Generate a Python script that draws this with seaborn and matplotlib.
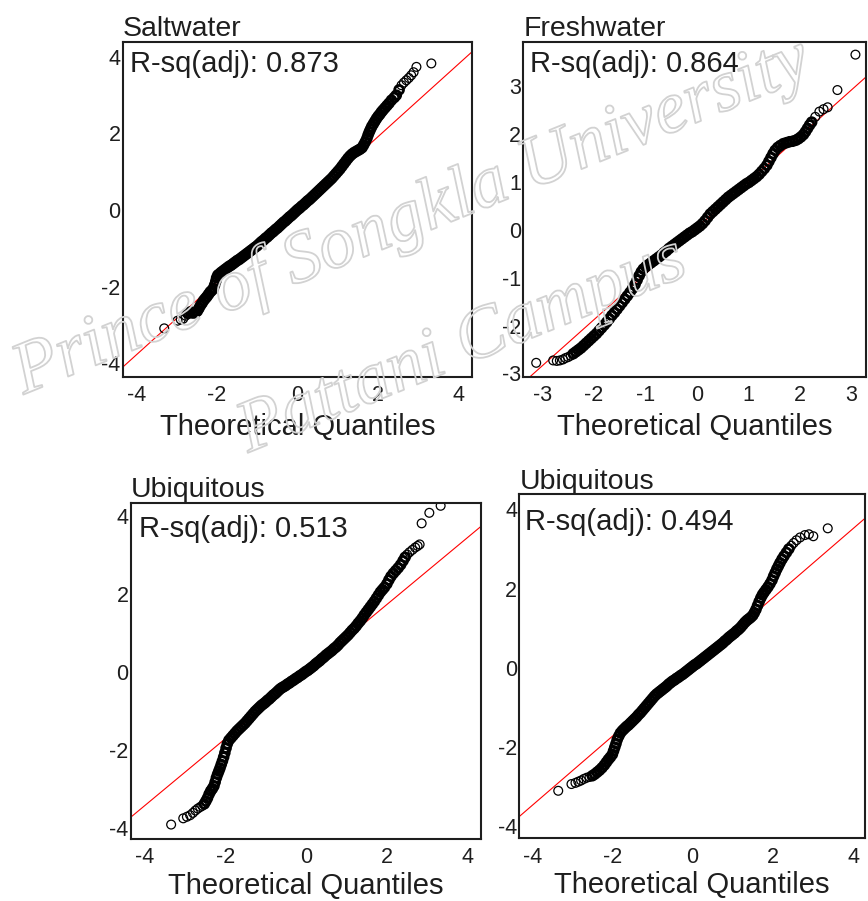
import matplotlib
matplotlib.use("Agg")
import matplotlib.pyplot as plt
import matplotlib.patheffects as pe
import numpy as np
import pandas as pd
import seaborn as sns

# QQ points (theoretical quantile, sample quantile)
salt_x = [-3.31, -2.98, -2.90, -2.84, -2.78, -2.72, -2.66, -2.60, -2.54, -2.49, -2.45, -2.41,
          -2.37, -2.33, -2.29, -2.25, -2.21, -2.17, -2.13, -2.09, -2.06, -2.03, -2.01, -1.98,
          -1.94, -1.90,
          -1.85, -1.80, -1.75, -1.70, -1.65, -1.60, -1.55, -1.50, -1.45, -1.40,
          -1.35, -1.30, -1.25, -1.20, -1.15, -1.10, -1.05, -1.00, -0.95, -0.90,
          -0.85, -0.80, -0.75, -0.70, -0.65, -0.60, -0.55, -0.50, -0.45, -0.40,
          -0.35, -0.30, -0.25, -0.20, -0.15, -0.10, -0.05, 0.00, 0.05, 0.10,
          0.15, 0.20, 0.25, 0.30, 0.35, 0.40, 0.45, 0.50, 0.55, 0.60,
          0.65, 0.70, 0.75, 0.80, 0.85, 0.90, 0.95, 1.00, 1.05, 1.10,
          1.15, 1.20, 1.25, 1.30, 1.35, 1.40, 1.45, 1.50, 1.55, 1.60,
          1.64, 1.68, 1.72, 1.75, 1.78, 1.81, 1.84, 1.88, 1.92, 1.96, 2.00, 2.04, 2.08, 2.12,
          2.17, 2.22, 2.27, 2.33, 2.40, 2.45, 2.52, 2.58, 2.64, 2.70, 2.76, 2.82, 2.88, 2.95,
          3.32]
salt_y = [-3.09, -2.89, -2.86, -2.84, -2.76, -2.70, -2.66, -2.69, -2.68, -2.64, -2.57, -2.49,
          -2.43, -2.36, -2.31, -2.26, -2.20, -2.14, -2.10, -2.05, -1.96, -1.86, -1.77, -1.70,
          -1.67, -1.63,
          -1.59, -1.55, -1.51, -1.47, -1.44, -1.40, -1.36, -1.32, -1.29, -1.25,
          -1.21, -1.17, -1.13, -1.09, -1.05, -1.01, -0.97, -0.93, -0.88, -0.83,
          -0.79, -0.74, -0.70, -0.65, -0.60, -0.56, -0.51, -0.47, -0.42, -0.37,
          -0.32, -0.28, -0.23, -0.18, -0.14, -0.09, -0.04, 0.01, 0.05, 0.10,
          0.14, 0.19, 0.24, 0.28, 0.33, 0.38, 0.43, 0.48, 0.53, 0.58,
          0.63, 0.68, 0.73, 0.78, 0.83, 0.89, 0.95, 1.01, 1.07, 1.14,
          1.21, 1.28, 1.35, 1.41, 1.46, 1.50, 1.53, 1.56, 1.59, 1.63,
          1.70, 1.78, 1.87, 1.96, 2.04, 2.11, 2.18, 2.25, 2.32, 2.39, 2.45, 2.50, 2.56, 2.61,
          2.67, 2.73, 2.79, 2.87, 2.94, 3.00, 3.14, 3.26, 3.33, 3.39, 3.45, 3.52, 3.60, 3.74,
          3.83]

fresh_x = [-3.12, -2.79, -2.72, -2.66, -2.60,
           -2.55, -2.50, -2.45, -2.40, -2.35, -2.30, -2.25, -2.20, -2.15, -2.10,
           -2.05, -2.00, -1.95, -1.90, -1.85, -1.80, -1.75, -1.70, -1.65, -1.60,
           -1.55, -1.50, -1.45, -1.40, -1.35, -1.30, -1.25, -1.20,
           -1.16, -1.12, -1.08, -1.04,
           -0.99, -0.94, -0.89, -0.84, -0.79, -0.74, -0.69, -0.64, -0.59, -0.54,
           -0.49, -0.44, -0.39, -0.34, -0.29, -0.24, -0.19, -0.14, -0.09, -0.04,
           0.01, 0.06, 0.11, 0.16, 0.21, 0.26, 0.31, 0.36, 0.41, 0.46,
           0.51, 0.56, 0.61, 0.66, 0.71, 0.76, 0.81, 0.86, 0.91, 0.96,
           1.01, 1.06, 1.11, 1.16, 1.21, 1.26, 1.31,
           1.36, 1.40, 1.44, 1.48, 1.52, 1.57, 1.62, 1.68, 1.74, 1.80, 1.86, 1.92, 1.97,
           2.02, 2.07, 2.11, 2.15, 2.19, 2.23, 2.30, 2.38, 2.46, 2.54, 2.73, 3.08]
fresh_y = [-2.78, -2.73, -2.74, -2.73, -2.71,
           -2.68, -2.66, -2.63, -2.59, -2.55, -2.51, -2.47, -2.42, -2.37, -2.32,
           -2.27, -2.22, -2.17, -2.11, -2.05, -1.99, -1.93, -1.86, -1.79, -1.73,
           -1.66, -1.59, -1.52, -1.45, -1.38, -1.31, -1.23, -1.14,
           -1.05, -0.96, -0.88, -0.82,
           -0.77, -0.73, -0.69, -0.65, -0.61, -0.57, -0.53, -0.48, -0.44, -0.39,
           -0.35, -0.31, -0.27, -0.23, -0.19, -0.15, -0.11, -0.07, -0.04, 0.00,
           0.04, 0.08, 0.13, 0.19, 0.26, 0.33, 0.38, 0.43, 0.48, 0.53,
           0.58, 0.63, 0.68, 0.72, 0.76, 0.80, 0.84, 0.88, 0.92, 0.96,
           0.99, 1.03, 1.07, 1.11, 1.16, 1.22, 1.28,
           1.35, 1.43, 1.51, 1.59, 1.66, 1.72, 1.76, 1.80, 1.82, 1.84, 1.85, 1.87, 1.90,
           1.94, 1.99, 2.05, 2.12, 2.19, 2.25, 2.36, 2.47, 2.52, 2.56, 2.92, 3.66]

ubq1_x = [-3.34, -3.04, -2.95, -2.87, -2.80, -2.74, -2.68, -2.62, -2.57, -2.52, -2.48, -2.44,
          -2.40, -2.36, -2.32, -2.28, -2.25, -2.22, -2.19, -2.16, -2.13, -2.10, -2.07, -2.04,
          -2.01, -1.98, -1.95, -1.91,
          -1.86, -1.81, -1.76, -1.71, -1.66, -1.61, -1.56, -1.51, -1.46, -1.41,
          -1.36, -1.31, -1.26, -1.21, -1.16, -1.11, -1.06, -1.01, -0.96, -0.91,
          -0.86, -0.81, -0.76, -0.71, -0.66, -0.61, -0.56, -0.51, -0.46, -0.41,
          -0.36, -0.31, -0.26, -0.21, -0.16, -0.11, -0.06, -0.01, 0.04, 0.09,
          0.14, 0.19, 0.24, 0.29, 0.34, 0.39, 0.44, 0.49, 0.54, 0.59,
          0.64, 0.69, 0.74, 0.79, 0.84, 0.89, 0.94, 0.99, 1.04, 1.09,
          1.14, 1.19, 1.24, 1.29, 1.34, 1.39, 1.44, 1.49, 1.54, 1.59,
          1.64, 1.69, 1.74, 1.79, 1.84, 1.89, 1.94,
          2.00, 2.05, 2.10, 2.16, 2.22, 2.28, 2.34, 2.40, 2.45, 2.50, 2.56, 2.63, 2.70, 2.76,
          2.81, 2.86, 3.05, 3.33]
ubq1_y = [-3.91, -3.75, -3.71, -3.67, -3.61, -3.55, -3.50, -3.46, -3.43, -3.38, -3.31, -3.23,
          -3.13, -3.05, -2.99, -2.92, -2.82, -2.71, -2.62, -2.54, -2.46, -2.37, -2.28, -2.18,
          -2.07, -1.95, -1.84, -1.75,
          -1.69, -1.63, -1.57, -1.51, -1.46, -1.41, -1.36, -1.31, -1.25, -1.19,
          -1.13, -1.07, -1.01, -0.96, -0.91, -0.86, -0.82, -0.78, -0.73, -0.69,
          -0.64, -0.59, -0.55, -0.50, -0.45, -0.41, -0.38, -0.35, -0.31, -0.28,
          -0.24, -0.21, -0.17, -0.14, -0.10, -0.07, -0.03, 0.01, 0.04, 0.08,
          0.12, 0.16, 0.21, 0.25, 0.29, 0.34, 0.38, 0.43, 0.47, 0.51,
          0.55, 0.60, 0.64, 0.69, 0.75, 0.80, 0.85, 0.90, 0.95, 1.01,
          1.07, 1.12, 1.18, 1.25, 1.31, 1.38, 1.46, 1.53, 1.60, 1.67,
          1.74, 1.81, 1.89, 1.97, 2.05, 2.11, 2.17,
          2.26, 2.36, 2.45, 2.53, 2.60, 2.67, 2.75, 2.85, 2.94, 3.01, 3.07, 3.13, 3.19, 3.23,
          3.27, 3.81, 4.08, 4.26]

ubq2_x = [-3.35, -3.02, -2.92, -2.85, -2.78, -2.71, -2.64, -2.57, -2.50, -2.44, -2.38, -2.32,
          -2.26, -2.20, -2.15, -2.10, -2.05, -2.00, -1.97, -1.94, -1.91, -1.88, -1.84, -1.80,
          -1.75, -1.70, -1.65, -1.60, -1.55, -1.50, -1.45, -1.40, -1.35, -1.30,
          -1.25, -1.20, -1.15, -1.10, -1.05, -1.00, -0.95, -0.90, -0.85, -0.80,
          -0.75, -0.70, -0.65, -0.60, -0.55, -0.50, -0.45, -0.40, -0.35, -0.30,
          -0.25, -0.20, -0.15, -0.10, -0.05, 0.00, 0.05, 0.10, 0.15, 0.20,
          0.25, 0.30, 0.35, 0.40, 0.45, 0.50, 0.55, 0.60, 0.65, 0.70,
          0.75, 0.80, 0.85, 0.90, 0.95, 1.00, 1.05, 1.10, 1.15, 1.20,
          1.25, 1.30, 1.35, 1.40, 1.45, 1.50,
          1.54, 1.58, 1.62, 1.66, 1.70, 1.74, 1.78, 1.83, 1.88, 1.93, 1.98, 2.02, 2.06, 2.10,
          2.14, 2.18, 2.23, 2.28, 2.34, 2.40, 2.46, 2.52, 2.59, 2.68, 2.80, 2.90, 3.01, 3.37]
ubq2_y = [-3.11, -2.94, -2.91, -2.88, -2.85, -2.81, -2.78, -2.76, -2.73, -2.69, -2.64, -2.59,
          -2.53, -2.46, -2.39, -2.32, -2.26, -2.19, -2.10, -2.01, -1.92, -1.82, -1.73, -1.65,
          -1.59, -1.54, -1.49, -1.45, -1.40, -1.35, -1.30, -1.25, -1.19, -1.14,
          -1.08, -1.02, -0.96, -0.90, -0.84, -0.78, -0.72, -0.67, -0.63, -0.59,
          -0.55, -0.51, -0.47, -0.42, -0.38, -0.34, -0.31, -0.27, -0.24, -0.20,
          -0.17, -0.13, -0.09, -0.05, -0.01, 0.03, 0.07, 0.10, 0.14, 0.18,
          0.22, 0.26, 0.30, 0.34, 0.38, 0.42, 0.46, 0.50, 0.54, 0.58,
          0.62, 0.67, 0.71, 0.76, 0.80, 0.84, 0.88, 0.93, 0.97, 1.02,
          1.08, 1.14, 1.19, 1.23, 1.27, 1.32,
          1.39, 1.47, 1.57, 1.67, 1.76, 1.84, 1.90, 1.97, 2.04, 2.12, 2.21, 2.31, 2.40, 2.49,
          2.57, 2.65, 2.74, 2.82, 2.91, 3.00, 3.08, 3.15, 3.22, 3.29, 3.35, 3.37, 3.32, 3.52]

titles = ["Saltwater", "Freshwater", "Ubiquitous", "Ubiquitous"]
rsq = ["0.873", "0.864", "0.513", "0.494"]
line_slope = [0.95, 0.96, 0.86, 0.874]
line_icpt = [0.02, 0.04, 0.01, 0.016]
x_ticks = [[-4, -2, 0, 2, 4], [-3, -2, -1, 0, 1, 2, 3], [-4, -2, 0, 2, 4], [-4, -2, 0, 2, 4]]
y_ticks = [[-4, -2, 0, 2, 4], [-3, -2, -1, 0, 1, 2, 3], [-4, -2, 0, 2, 4], [-4, -2, 0, 2, 4]]
x_lims = [(-4.34, 4.33), (-3.37, 3.28), (-4.34, 4.33), (-4.32, 4.30)]
y_lims = [(-4.36, 4.39), (-3.07, 3.93), (-4.28, 4.34), (-4.31, 4.38)]

panels = [(salt_x, salt_y), (fresh_x, fresh_y), (ubq1_x, ubq1_y), (ubq2_x, ubq2_y)]

sns.set_theme(style="white")
plt.rcParams["font.family"] = ["Liberation Sans", "DejaVu Sans"]
plt.rcParams["axes.unicode_minus"] = False
ink = "#1e1e1e"

fig = plt.figure(figsize=(8.68, 9.01), dpi=100)
boxes = [[0.1414, 0.5816, 0.4024, 0.3718],
         [0.6029, 0.5819, 0.3945, 0.3718],
         [0.1506, 0.0688, 0.4036, 0.3733],
         [0.5983, 0.0696, 0.3983, 0.3818]]
rsq_pos = [(0.022, 0.975), (0.019, 0.975), (0.025, 0.962), (0.016, 0.960)]
# stretch of theoretical quantiles where the circles pile up into a solid band
dense = [(-2.75, 2.55), (-2.42, 2.25), (-2.55, 2.45), (-2.55, 2.45)]
label_pad = [5, 5, 2.5, 2.5]

for i, (xs, ys) in enumerate(panels):
    ax = fig.add_axes(boxes[i])
    df = pd.DataFrame({"theo": xs, "sample": ys})
    ax.axline((0, line_icpt[i]), slope=line_slope[i], color="red", lw=0.8, zorder=1)
    sns.scatterplot(data=df, x="theo", y="sample", ax=ax, marker="o", s=40,
                    facecolor="none", edgecolor="black", linewidth=0.9, zorder=2)
    lo, hi = dense[i]
    inside = (df["theo"] >= lo) & (df["theo"] <= hi)
    ax.collections[-1].set_linewidths(np.where(inside, 2.0, 0.9))
    ax.set_xlim(*x_lims[i])
    ax.set_ylim(*y_lims[i])
    ax.set_xticks(x_ticks[i])
    ax.set_yticks(y_ticks[i])
    ax.tick_params(direction="in", length=6, width=1.3, colors=ink, labelsize=15.5, pad=6)
    ax.tick_params(axis="y", pad=1.5)
    for sp in ax.spines.values():
        sp.set_color(ink)
        sp.set_linewidth(1.5)
    ax.set_xlabel("Theoretical Quantiles", fontsize=21, color=ink, labelpad=label_pad[i])
    ax.set_ylabel("")
    ax.set_title(titles[i], loc="left", fontsize=20.5, color=ink, pad=4)
    ax.text(rsq_pos[i][0], rsq_pos[i][1], "R-sq(adj): " + rsq[i], transform=ax.transAxes,
            ha="left", va="top", fontsize=21, color=ink)

# faint watermark over the figure
wm = dict(fontsize=53, family="Liberation Serif", style="italic", rotation=22,
          rotation_mode="anchor", ha="center", va="center", color=(1, 1, 1, 0),
          path_effects=[pe.withStroke(linewidth=1.3, foreground="#d2d2d2")], zorder=10)
fig.text(0.475, 0.758, "Prince of Songkla University", **wm)
fig.text(0.533, 0.615, "Pattani Campus", **wm)

fig.savefig("out.png", dpi=100)
